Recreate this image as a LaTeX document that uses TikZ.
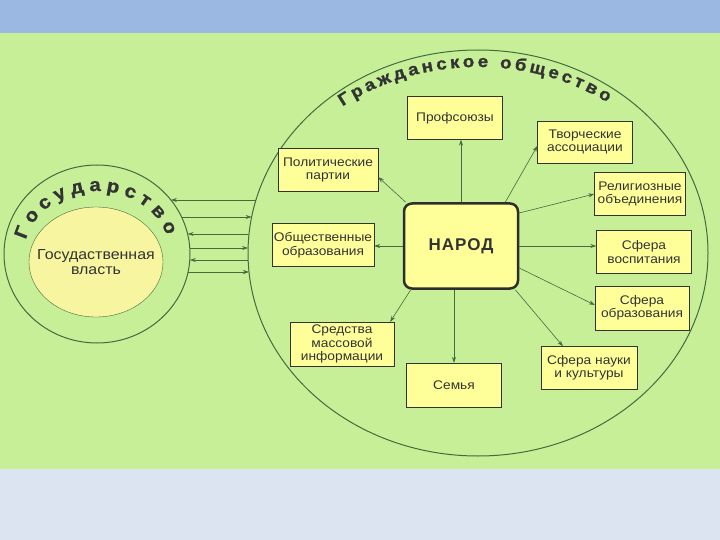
\documentclass[tikz,border=0pt]{standalone}
\usepackage{fontspec}
\setmainfont{Liberation Sans}
\newfontfamily\boxfamily{Liberation Sans}[FakeStretch=1.1]
\newfontfamily\narodfamily{Liberation Sans}[LetterSpace=6]
\newfontfamily\archfamily{Liberation Sans Bold}[FakeBold=1.2, FakeStretch=1.1]
\newcommand\archfont{\archfamily\fontsize{17}{19}\selectfont}
\newcommand\gosfont{\archfamily\fontsize{18.5}{21}\selectfont}
\usetikzlibrary{shapes.geometric,decorations.text,arrows.meta}
\definecolor{band_blue}{HTML}{9BB8E2}
\definecolor{pale_blue}{HTML}{DCE4F2}
\definecolor{field_green}{HTML}{C6EF98}
\definecolor{box_yellow}{HTML}{FFFF99}
\definecolor{core_yellow}{HTML}{F8F5A0}
\definecolor{line_green}{HTML}{456A40}
\definecolor{ink}{HTML}{333333}

\begin{document}
\begin{tikzpicture}[x=1pt, y=-1pt, >={Stealth[length=6pt, width=4pt]},
    every node/.style={text=ink, font=\boxfamily\fontsize{12.5}{13.5}\selectfont},
    pole/.style={draw=ink, fill=box_yellow, align=center, inner sep=1pt, minimum width=95pt, minimum height=43pt},
    link/.style={->, draw=line_green, semithick},
    ring/.style={draw=line_green, line width=1pt}]

    % background bands
    \fill[band_blue] (0,0) rectangle (720,33);
    \fill[field_green] (0,33) rectangle (720,469);
    \fill[pale_blue] (0,469) rectangle (720,540);
    \useasboundingbox (0,0) rectangle (720,540);

    % civil society
    \draw[ring] (478,253) ellipse [x radius=230pt, y radius=203pt];
    \path[decorate, decoration={text along path, text align={fit to path}, text color=ink,
        text={|\archfont|Гражданское общество}}]
      (478,253) ++(128:220pt and 186pt) arc[start angle=128, end angle=54, x radius=220pt, y radius=186pt];

    % state
    \node[ellipse, ring, minimum width=186pt, minimum height=178pt, inner sep=0pt] (gos) at (97,254) {};
    \node[ellipse, draw=line_green, fill=core_yellow, minimum width=134pt, minimum height=110pt, inner sep=0pt,
      label={[align=center, font=\boxfamily\fontsize{14.5}{15.5}\selectfont]center:Госудаственная\\власть}] (vlast) at (96,262) {};
    \path[decorate, decoration={text along path, text align={fit to path}, text color=ink,
        text={|\gosfont|Государство}}]
      (97,254) ++(167:73pt and 63pt) arc[start angle=167, end angle=17, x radius=73pt, y radius=63pt];

    \foreach \y/\dir in {200/<-, 217/->, 234/<-, 248/->, 260/<-, 272/->} {
      \pgfmathsetmacro\xa{97+93*sqrt(1-((\y-254)/89)^2)}
      \pgfmathsetmacro\xb{478-230*sqrt(1-((\y-253)/203)^2)}
      \coordinate (s\y) at (\xa,\y);
      \coordinate (o\y) at (\xb,\y);
      \draw[\dir, line_green, semithick] (s\y) -- (o\y);
    }

    % the people and its unions
    \node[draw=ink!90!black, fill=box_yellow, line width=2.5pt, rounded corners=8pt, minimum width=114pt, minimum height=85pt,
      font=\narodfamily\bfseries\fontsize{17}{20}\selectfont] (narod) at (461,246) {НАРОД};

    \node[pole] (prof) at (455,118) {Профсоюзы};
    \node[pole, minimum height=42pt] (tvor) at (585,142) {Творческие\\ассоциации};
    \node[pole, minimum width=91pt] (relig) at (640,194) {Религиозные\\объединения};
    \node[pole] (vosp) at (644,252) {Сфера\\воспитания};
    \node[pole, minimum width=94pt, minimum height=44pt] (obraz) at (642,308) {Сфера\\образования};
    \node[pole, minimum width=96pt] (nauka) at (589,368) {Сфера науки\\и культуры};
    \node[pole, minimum height=44pt] (semya) at (454,385) {Семья};
    \node[pole, minimum width=104pt, minimum height=44pt] (smi) at (342,344) {Средства\\массовой\\информации};
    \node[pole, minimum width=102pt] (obsh) at (323,245) {Общественные\\образования};
    \node[pole, minimum width=100pt] (polit) at (328,170) {Политические\\партии};

    \draw[link] (narod.north) -- (narod.north |- prof.south);
    \draw[link] ([xshift=-14pt]narod.north east) -- ([yshift=-4pt]tvor.west);
    \draw[link] ([yshift=33pt]narod.east) -- (relig.west);
    \draw[link] (narod.east) -- (narod.east -| vosp.west);
    \draw[link] ([yshift=-22pt]narod.east) -- ([yshift=3pt]obraz.west);
    \draw[link] ([xshift=-4pt]narod.south east) -- ([xshift=-26pt]nauka.north);
    \draw[link] (narod.south -| semya.north) -- (semya.north);
    \draw[link] ([xshift=8pt]narod.south west) -- ([xshift=-4pt]smi.north east);
    \draw[link] (narod.west) -- (narod.west -| obsh.east);
    \draw[link] ([xshift=3pt]narod.north west) -- ([yshift=-7pt]polit.east);

\end{tikzpicture}
\end{document}
